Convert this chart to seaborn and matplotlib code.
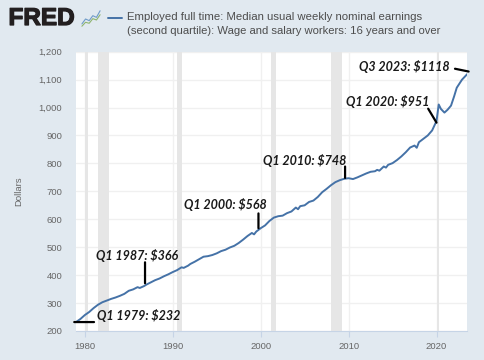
import pandas as pd
import matplotlib
matplotlib.use("Agg")
import matplotlib.pyplot as plt
import matplotlib.patheffects as pe
import seaborn as sns

years = [1979.0, 1979.5, 1980.0, 1980.5, 1981.0, 1981.5, 1982.0, 1982.5, 1983.0, 1983.5, 1984.0, 1984.5, 1985.0,
         1985.5, 1986.0, 1986.25, 1986.75, 1987.0, 1987.5, 1988.0, 1988.5, 1989.0, 1989.5, 1990.0, 1990.5, 1991.0,
         1991.25, 1991.75, 1992.0, 1992.5, 1993.0, 1993.5, 1994.0, 1994.5, 1995.0, 1995.5, 1996.0, 1996.5, 1997.0,
         1997.5, 1998.0, 1998.5, 1999.0, 1999.25, 1999.5, 2000.0, 2000.5, 2001.0, 2001.5, 2002.0, 2002.5, 2003.0,
         2003.5, 2004.0, 2004.25, 2004.5, 2005.0, 2005.5, 2006.0, 2006.5, 2007.0, 2007.5, 2008.0, 2008.5, 2009.0,
         2009.5, 2010.0, 2010.5, 2011.0, 2011.5, 2012.0, 2012.5, 2013.0, 2013.25, 2013.5, 2014.0, 2014.25, 2014.5,
         2015.0, 2015.5, 2016.0, 2016.5, 2017.0, 2017.5, 2017.75, 2018.0, 2018.5, 2019.0, 2019.5, 2020.0, 2020.25,
         2020.5, 2020.9, 2021.25, 2021.65, 2022.0, 2022.3, 2022.9, 2023.5]
earnings = [232, 243, 257, 268, 282, 294, 303, 309, 315, 320, 326, 333, 344, 349, 357, 354, 361, 366, 374, 382, 388,
            396, 403, 411, 418, 428, 426, 434, 440, 448, 457, 466, 468, 472, 478, 486, 491, 499, 505, 515, 527, 540,
            551, 546, 556, 568, 578, 594, 606, 611, 613, 622, 628, 642, 636, 647, 650, 662, 667, 680, 697, 709, 722,
            733, 740, 745, 747, 744, 750, 757, 764, 770, 772, 777, 774, 789, 785, 795, 801, 812, 825, 840, 857, 864,
            856, 876, 888, 900, 918, 952, 1011, 995, 982, 992, 1007, 1040, 1071, 1100, 1120]

recession_start = [1980.0, 1981.45, 1990.45, 2001.15, 2008.0, 2020.05]
recession_end = [1980.35, 1982.7, 1991.05, 2001.75, 2009.3, 2020.27]

year_ticks = [1980, 1990, 2000, 2010, 2020]
dollar_ticks = list(range(200, 1300, 100))

# annotations: label, black tick ends, label anchor
note_labels = ["Q1 1979: $232", "Q1 1987: $366", "Q1 2000: $568", "Q1 2010: $748", "Q1 2020: $951", "Q3 2023: $1118"]
tick_x0 = [1978.8, 1986.85, 1999.75, 2009.6, 2020.0, 2023.65]
tick_y0 = [232, 371, 568, 748, 946, 1129]
tick_x1 = [1981.05, 1986.85, 1999.75, 2009.6, 2019.05, 2022.1]
tick_y1 = [232, 446, 621, 789, 996, 1139]
label_x = [1981.4, 1981.3, 1991.3, 2000.3, 2009.7, 2011.2]
label_y = [257, 471, 654, 811, 1021, 1146]

bg = "#e1e9f0"
df = pd.DataFrame({"year": years, "earnings": earnings})

sns.set_theme(style="white")
plt.rcParams["font.family"] = ["Liberation Sans", "DejaVu Sans"]

fig = plt.figure(figsize=(4.85, 3.6), dpi=100, facecolor=bg)
ax = fig.add_axes([76 / 485, 1 - 331 / 360, (467.3 - 76) / 485, (331 - 51.7) / 360])
ax.set_facecolor("white")

for s, e in zip(recession_start, recession_end):
    ax.axvspan(s, e, color="#e6e6e6", lw=0, zorder=1)

sns.lineplot(data=df, x="year", y="earnings", color="#4572a7", lw=1.4, ax=ax, zorder=3)

ax.set_xlim(1979.0, 2023.5)
ax.set_ylim(200, 1200)
ax.set_xticks(year_ticks)
ax.set_yticks(dollar_ticks)
ax.set_yticklabels([f"{v:,}" for v in dollar_ticks])
ax.grid(True, color="#f0f0f0", lw=1)
ax.set_axisbelow(True)
ax.tick_params(axis="x", length=4, width=0.8, color="#c6d4e6", labelsize=6.8, labelcolor="#666666", pad=4, bottom=True)
ax.tick_params(axis="y", length=0, labelsize=6.8, labelcolor="#666666", pad=10)
for side in ["top", "right", "left"]:
    ax.spines[side].set_visible(False)
ax.spines["bottom"].set_color("#c6d4e6")
ax.spines["bottom"].set_linewidth(0.8)
ax.set_xlabel("")
ax.set_ylabel("Dollars", fontsize=6.8, color="#666666", labelpad=11)

for i, label in enumerate(note_labels):
    ax.annotate("", xy=(tick_x0[i], tick_y0[i]), xytext=(tick_x1[i], tick_y1[i]),
                arrowprops=dict(arrowstyle="-", color="black", lw=1.6, shrinkA=0, shrinkB=0), zorder=5, annotation_clip=False)
    ax.text(label_x[i], label_y[i], label, fontsize=9, family=["Lato", "DejaVu Sans"], fontweight="bold",
            fontstyle="italic", color="#1a1a1a", va="center", ha="left", zorder=6)

# header
logo = fig.text(8.5 / 485, 1 - 18.5 / 360, "FRED", fontsize=17.5, fontweight="bold", color="#231f20", va="center", ha="left")
logo.set_path_effects([pe.withStroke(linewidth=0.9, foreground="#231f20")])
fig.text(127 / 485, 1 - 17.5 / 360, "Employed full time: Median usual weekly nominal earnings", fontsize=8.2,
         color="#4d4d4d", va="center", ha="left")
fig.text(127 / 485, 1 - 31 / 360, "(second quartile): Wage and salary workers: 16 years and over", fontsize=8.15,
         color="#4d4d4d", va="center", ha="left")
fig.add_artist(plt.Line2D([108.5 / 485, 122.5 / 485], [1 - 17.5 / 360] * 2, color="#4572a7", lw=1.4))

# logo icon
icon = fig.add_axes([81 / 485, 1 - 27 / 360, 20 / 485, 17 / 360])
icon.set_facecolor("#d5dade")
icon.axis("off")
icon.patch.set_visible(True)
icon.plot([0, 1, 2, 3, 4, 5], [1, 2.5, 2, 3.5, 3, 5], color="#6f9bc8", lw=0.8)
icon.plot([0, 1, 2, 3, 4, 5], [0.3, 1.5, 1.2, 2.6, 2.2, 3.8], color="#8fb56f", lw=0.8)

fig.savefig("out.png", dpi=100, facecolor=bg)
